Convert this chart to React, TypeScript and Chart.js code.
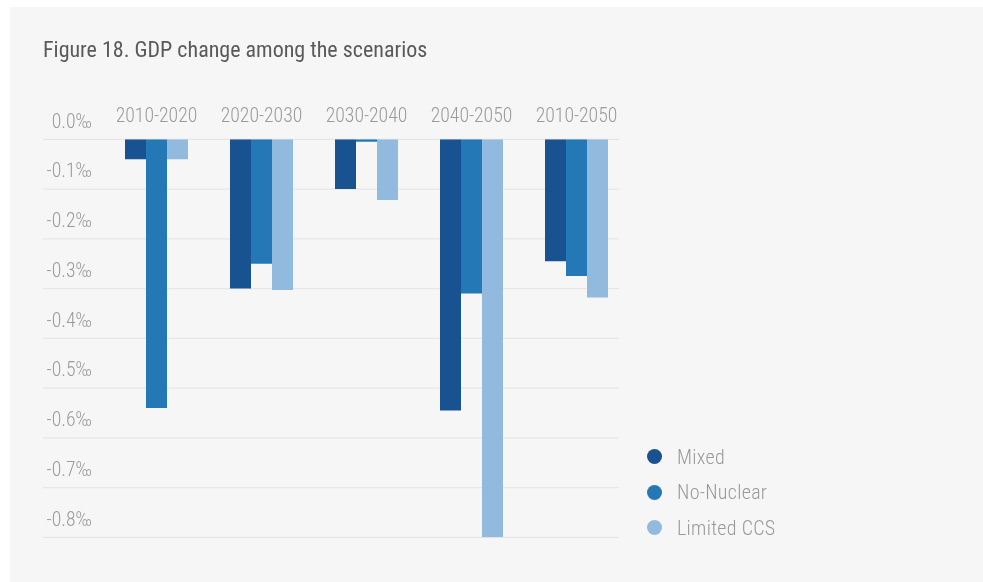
import React, { useEffect, useRef } from 'react';
import { Chart, registerables } from 'chart.js';

Chart.register(...registerables);

const titleText = 'Figure 18. GDP change among the scenarios';
const categories = ['2010-2020', '2020-2030', '2030-2040', '2040-2050', '2010-2050'];
const seriesNames = ['Mixed', 'No-Nuclear', 'Limited CCS'];
const mixedValues = [-0.04, -0.3, -0.1, -0.545, -0.245];
const noNuclearValues = [-0.54, -0.25, -0.005, -0.31, -0.275];
const limitedCcsValues = [-0.04, -0.303, -0.122, -0.8, -0.318];
const seriesColors = ['#185291', '#2478b5', '#92badf'];
const yTickValues = [0, -0.1, -0.2, -0.3, -0.4, -0.5, -0.6, -0.7, -0.8];
const yTickLabels = ['0.0‰', '-0.1‰', '-0.2‰', '-0.3‰', '-0.4‰', '-0.5‰', '-0.6‰', '-0.7‰', '-0.8‰'];

const FONT = "'Roboto Condensed', Roboto, sans-serif";
const PANEL_W = 973;
const PANEL_H = 575;
const GRID_LEFT_INSET = 61;

const gridPlugin = {
  id: 'customGrid',
  beforeDatasetsDraw(chart: any) {
    const { ctx, chartArea } = chart;
    const y = chart.scales.y;
    ctx.save();
    ctx.strokeStyle = '#e6e6e6';
    ctx.lineWidth = 1.2;
    y.ticks.forEach((t: any) => {
      const py = y.getPixelForValue(t.value);
      ctx.beginPath();
      ctx.moveTo(chartArea.left - GRID_LEFT_INSET, py);
      ctx.lineTo(chartArea.right - 10, py);
      ctx.stroke();
    });
    ctx.restore();
  },
};

export default function App() {
  const canvasRef = useRef<HTMLCanvasElement | null>(null);

  useEffect(() => {
    const canvas = canvasRef.current;
    if (!canvas) return;
    const seriesValues = [mixedValues, noNuclearValues, limitedCcsValues];
    const chart = new Chart(canvas, {
      type: 'bar',
      data: {
        labels: categories,
        datasets: seriesNames.map((name, i) => ({
          label: name,
          data: seriesValues[i],
          backgroundColor: seriesColors[i],
          borderWidth: 0,
          categoryPercentage: 0.6,
          barPercentage: 1.0,
        })),
      },
      options: {
        responsive: false,
        animation: false,
        devicePixelRatio: 1,
        layout: { padding: { top: 92.3, left: 20, right: 354, bottom: 44.7 } },
        plugins: {
          legend: { display: false },
          title: { display: false },
          tooltip: { enabled: false },
        },
        scales: {
          x: {
            type: 'category',
            position: 'top',
            offset: true,
            grid: { display: false, drawTicks: false },
            border: { display: false },
            ticks: {
              maxRotation: 0,
              autoSkip: false,
              padding: 10,
              color: '#9b9b9b',
              font: { family: FONT, size: 19.7, weight: '300' },
            },
            afterFit: (axis: any) => {
              axis.height = 40;
            },
          },
          y: {
            type: 'linear',
            min: -0.8,
            max: 0,
            grid: { display: false, drawTicks: false },
            border: { display: false },
            ticks: {
              stepSize: 0.1,
              padding: 12,
              labelOffset: -16.5,
              color: '#9b9b9b',
              font: { family: FONT, size: 19.7, weight: '300' },
              callback: (value: any) => {
                const idx = yTickValues.findIndex((v) => Math.abs(v - Number(value)) < 1e-6);
                return idx >= 0 ? yTickLabels[idx] : '';
              },
            },
            afterFit: (axis: any) => {
              axis.width = 74;
            },
          },
        },
      },
      plugins: [gridPlugin],
    } as any);
    return () => chart.destroy();
  }, []);

  const legendTop0 = 439.6;
  const legendStep = 35.5;

  return (
    <div
      style={{
        position: 'absolute',
        left: 10,
        top: 7,
        width: PANEL_W,
        height: PANEL_H,
        background: '#f6f6f6',
        overflow: 'hidden',
      }}
    >
      <canvas ref={canvasRef} width={PANEL_W} height={PANEL_H} style={{ display: 'block' }} />
      <div
        style={{
          position: 'absolute',
          left: 33,
          top: 32,
          fontFamily: FONT,
          fontSize: 22,
          lineHeight: '22px',
          letterSpacing: '0px',
          color: '#5a5a5a',
          whiteSpace: 'nowrap',
        }}
      >
        {titleText}
      </div>
      {seriesNames.map((name, i) => (
        <div
          key={name}
          style={{
            position: 'absolute',
            left: 637,
            top: legendTop0 + i * legendStep,
            height: 20,
            display: 'flex',
            alignItems: 'center',
            fontFamily: FONT,
            fontSize: 20,
            fontWeight: 300,
            lineHeight: '20px',
            letterSpacing: '0.3px',
            color: '#999999',
            whiteSpace: 'nowrap',
          }}
        >
          <span
            style={{
              display: 'inline-block',
              width: 15,
              height: 15,
              borderRadius: '50%',
              background: seriesColors[i],
              marginRight: 15,
            }}
          />
          <span>{name}</span>
        </div>
      ))}
    </div>
  );
}
